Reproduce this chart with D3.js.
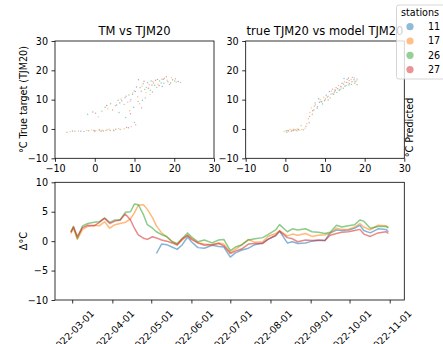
<!DOCTYPE html>
<html>
<head>
<meta charset="utf-8">
<script src="https://cdn.jsdelivr.net/npm/d3@7"></script>
<style>
  html, body { margin: 0; padding: 0; background: #fff; }
  svg { display: block; font-family: "DejaVu Sans", sans-serif; }
</style>
</head>
<body>
<svg id="chart" width="443" height="344"></svg>
<script>
// ---- data ----
const stations = ["11", "17", "26", "27"];
const stationColors = ["#1f77b4", "#ff7f0e", "#2ca02c", "#d62728"];

const scatterTicks = [-10, 0, 10, 20, 30];
const scatterTickLabels = ["\u221210", "0", "10", "20", "30"];
const deltaTicks = [-10, -5, 0, 5, 10];
const deltaTickLabels = ["\u221210", "\u22125", "0", "5", "10"];
const dateTicks = ["2022-03-01", "2022-04-01", "2022-05-01", "2022-06-01", "2022-07-01",
                   "2022-08-01", "2022-09-01", "2022-10-01", "2022-11-01"];

// TM (air) vs TJM20 (soil, 20 cm), per station: [TM, TJM20]
const tmVsTjm_11 = [[-3.5,-0.8],[1.2,-0.4],[4.8,-0.6],[8.5,0.4],[-0.5,5.8],[2.6,7.4],[5.5,8.2],[6.8,9.6],[7.9,11.2],[9.1,10.1],[10.2,12.8],[11.4,14.1],[12.6,13.5],[13.3,15.8],[14.2,16.4],[15.1,14.9],[15.8,16.9],[16.7,15.7],[17.5,17.2],[18.4,16.1],[19.6,16.8],[21.0,16.2],[9.8,7.4],[12.0,9.8],[14.5,12.6],[6.1,5.6],[11.0,16.8],[17.0,14.5]];
const tmVsTjm_17 = [[-6.2,-0.9],[-4.1,-0.7],[-2.0,-0.5],[-0.8,-0.3],[0.3,-0.6],[1.1,-0.2],[1.9,-0.4],[2.8,-0.5],[3.6,-0.1],[4.7,-0.3],[6.0,0.2],[7.4,0.1],[9.2,0.8],[0.9,4.2],[3.3,6.9],[5.2,7.9],[6.6,10.2],[8.3,9.1],[9.6,12.3],[10.8,11.0],[11.9,14.6],[12.9,12.4],[13.7,15.1],[14.6,16.2],[15.9,15.3],[16.8,17.0],[18.2,16.6],[19.3,17.5],[20.5,16.0],[8.8,6.2],[11.3,8.6],[13.9,11.8]];
const tmVsTjm_26 = [[-7.0,-1.1],[-5.0,-0.8],[-1.5,-0.6],[0.0,-0.8],[2.2,-0.7],[3.9,-0.5],[6.4,-0.2],[-1.8,5.0],[1.8,6.1],[4.0,8.6],[5.9,9.8],[7.4,8.4],[8.6,11.6],[9.9,13.0],[10.9,9.4],[12.2,15.4],[13.0,14.2],[14.0,13.2],[14.8,15.7],[15.6,14.2],[16.3,16.4],[17.4,15.6],[18.8,15.2],[20.1,16.4],[21.6,15.9],[7.8,3.9],[10.0,2.2],[12.7,10.6]];
const tmVsTjm_27 = [[-5.6,-0.7],[-2.7,-0.9],[-0.2,-0.5],[1.6,-0.8],[3.1,-0.3],[5.3,-0.1],[8.0,0.5],[10.3,1.4],[0.2,5.4],[3.0,8.0],[4.5,6.5],[6.3,8.9],[7.6,10.7],[8.9,9.5],[9.5,11.8],[10.5,14.3],[11.7,12.9],[12.4,16.3],[13.5,13.9],[14.4,15.0],[15.3,16.6],[16.2,14.8],[17.2,16.9],[18.0,17.8],[19.1,15.7],[20.3,17.1],[11.8,7.2],[9.0,5.2]];

// true TJM20 vs model TJM20, per station: [true, model]
const trueVsModel_11 = [[0.2,-0.6],[2.4,-0.3],[7.5,8.9],[8.4,10.3],[9.2,9.2],[10.3,11.5],[11.1,12.8],[12.0,12.0],[12.8,14.1],[13.6,13.2],[14.3,15.6],[15.0,14.6],[15.6,16.9],[16.2,15.4],[16.9,17.6],[17.6,16.2],[18.1,17.0],[8.0,7.1],[10.8,9.9],[14.8,17.2]];
const trueVsModel_17 = [[-0.3,-0.9],[0.6,-0.5],[1.2,-0.2],[1.7,-0.4],[2.1,-0.1],[2.6,-0.3],[3.0,0.0],[3.5,-0.4],[4.2,-0.2],[5.0,0.3],[5.4,1.8],[5.8,3.5],[6.2,5.6],[6.6,7.2],[7.6,8.3],[8.8,10.0],[9.7,10.8],[10.9,11.2],[11.6,12.9],[12.5,13.4],[13.4,14.8],[14.1,14.0],[14.9,16.1],[15.8,15.8],[16.6,16.9],[17.4,17.4],[18.0,16.4],[4.0,1.2]];
const trueVsModel_26 = [[0.4,-1.1],[1.5,-0.8],[2.9,-0.6],[4.6,-0.3],[6.0,2.1],[6.8,5.0],[7.2,6.5],[8.1,7.6],[9.4,8.5],[10.1,10.2],[11.3,10.6],[12.2,11.8],[13.0,12.4],[13.8,13.5],[14.6,13.9],[15.3,14.8],[16.0,15.0],[16.7,15.2],[17.5,15.6],[18.1,15.1],[9.0,9.4],[12.6,13.1]];
const trueVsModel_27 = [[0.8,-0.7],[2.0,-0.5],[3.3,-0.2],[5.2,0.9],[6.1,4.3],[6.9,6.2],[7.3,7.8],[8.6,9.1],[9.9,9.7],[10.6,10.9],[11.5,11.9],[12.4,12.6],[13.2,13.7],[14.0,14.5],[14.7,15.3],[15.4,15.9],[16.1,16.5],[16.8,16.1],[17.3,16.8],[15.9,17.4],[11.9,13.6]];

// error series (Δ°C) per station
const dates = ["2022-02-28","2022-03-02","2022-03-05","2022-03-09","2022-03-13","2022-03-18","2022-03-22","2022-03-26","2022-03-30",
  "2022-04-03","2022-04-07","2022-04-11","2022-04-15","2022-04-18","2022-04-21","2022-04-25","2022-04-28",
  "2022-05-02","2022-05-05","2022-05-09","2022-05-13","2022-05-17","2022-05-21","2022-05-25","2022-05-29",
  "2022-06-01","2022-06-06","2022-06-11","2022-06-17","2022-06-22","2022-06-26",
  "2022-07-01","2022-07-05","2022-07-10","2022-07-15","2022-07-20","2022-07-26","2022-07-30",
  "2022-08-05","2022-08-08","2022-08-14","2022-08-18","2022-08-22","2022-08-28",
  "2022-09-02","2022-09-07","2022-09-12","2022-09-16","2022-09-21","2022-09-25","2022-09-30",
  "2022-10-05","2022-10-09","2022-10-12","2022-10-17","2022-10-23","2022-10-29","2022-10-31"];
const delta_11 = [null,null,null,null,null,null,null,null,null,
  null,null,null,null,null,null,null,null,
  null,-2.1,-0.5,-0.6,-1.0,-1.4,-0.6,0.7,
  -0.1,-1.1,-1.2,-0.7,-0.9,-1.0,
  -2.7,-2.0,-1.5,-1.2,-0.6,-0.3,0.3,
  0.9,1.7,-0.3,-0.1,-0.4,-0.3,
  0.0,0.1,0.1,1.4,1.9,1.8,1.9,
  2.2,2.7,1.8,1.4,2.1,2.0,1.6];
const delta_17 = [1.3,2.2,0.3,2.0,2.5,2.7,2.6,3.3,2.2,
  2.8,3.0,3.2,3.8,4.8,6.1,6.2,5.4,
  4.0,2.6,1.4,0.7,0.0,-0.6,0.2,1.0,
  0.5,-0.3,-0.5,-0.6,-0.3,-0.5,
  -1.9,-1.4,-0.6,0.3,-0.2,-0.1,0.8,
  1.3,1.8,0.9,1.2,1.0,1.3,
  0.8,1.0,1.1,1.3,2.2,2.0,2.0,
  2.4,3.0,2.4,1.9,2.7,2.6,2.4];
const delta_26 = [1.6,2.5,0.5,2.6,3.0,3.2,3.3,3.9,3.2,
  3.6,3.6,4.9,5.0,6.3,6.2,4.5,2.8,
  2.2,1.6,1.1,0.8,-0.1,-0.4,0.5,1.4,
  0.75,-0.1,0.2,-0.3,0.2,0.3,
  -1.6,-1.0,-0.6,0.2,0.4,0.6,1.1,
  1.9,2.8,1.6,2.1,1.9,2.1,
  1.6,1.5,1.3,1.5,2.7,2.4,2.6,
  2.8,3.6,3.4,2.2,2.5,2.5,2.2];
const delta_27 = [1.5,2.4,0.8,2.3,2.7,2.6,3.2,3.9,3.0,
  3.4,3.6,4.6,3.6,2.2,1.05,0.5,0.3,
  0.75,0.55,0.2,0.0,-0.3,-0.65,0.4,1.0,
  0.3,-0.3,-0.7,-0.6,-0.4,-0.8,
  -2.1,-1.7,-1.3,-0.5,-0.4,-0.4,0.3,
  1.0,1.7,0.6,0.4,-0.1,0.2,
  0.1,0.2,0.1,1.0,1.3,1.5,1.6,
  1.8,2.0,1.2,0.8,1.4,1.6,1.3];

const tmVsTjm = [tmVsTjm_11, tmVsTjm_17, tmVsTjm_26, tmVsTjm_27];
const trueVsModel = [trueVsModel_11, trueVsModel_17, trueVsModel_26, trueVsModel_27];
const deltas = [delta_11, delta_17, delta_26, delta_27];

// ---- layout ----
const svg = d3.select("#chart");
const TICK_FONT = 9.6, TITLE_FONT = 11.5;
const panelTop = { y0: 41, y1: 158.3 };
const ax1 = { x0: 55, x1: 214 };
const ax2 = { x0: 245.7, x1: 404.3 };
const ax3 = { x0: 55, x1: 404.3, y0: 182.3, y1: 300 };

function styleAxis(g) {
  g.select(".domain").remove();
  g.selectAll(".tick line").attr("stroke", "#000").attr("stroke-width", 0.8);
  g.selectAll(".tick text").attr("fill", "#000").attr("font-size", TICK_FONT)
    .attr("font-family", "DejaVu Sans, sans-serif");
}

function frame(x0, x1, y0, y1) {
  svg.append("rect").attr("x", x0).attr("y", y0).attr("width", x1 - x0).attr("height", y1 - y0)
    .attr("fill", "none").attr("stroke", "#000").attr("stroke-width", 0.8);
}

function scatterPanel(ax, sets, title) {
  const x = d3.scaleLinear().domain([-10, 30]).range([ax.x0, ax.x1]);
  const y = d3.scaleLinear().domain([-10, 30]).range([panelTop.y1, panelTop.y0]);
  const g = svg.append("g");
  sets.forEach((pts, i) => {
    g.selectAll(null).data(pts).join("circle")
      .attr("cx", d => x(d[0])).attr("cy", d => y(d[1])).attr("r", 0.7)
      .attr("fill", stationColors[i]).attr("fill-opacity", 0.5);
  });
  svg.append("g").attr("transform", `translate(0,${panelTop.y1})`)
    .call(d3.axisBottom(x).tickValues(scatterTicks).tickFormat((d, i) => scatterTickLabels[i])
      .tickSize(3.5).tickPadding(3.5))
    .call(styleAxis);
  svg.append("g").attr("transform", `translate(${ax.x0},0)`)
    .call(d3.axisLeft(y).tickValues(scatterTicks).tickFormat((d, i) => scatterTickLabels[i])
      .tickSize(3.5).tickPadding(3.5))
    .call(styleAxis);
  frame(ax.x0, ax.x1, panelTop.y0, panelTop.y1);
  svg.append("text").attr("x", (ax.x0 + ax.x1) / 2).attr("y", 34.5)
    .attr("text-anchor", "middle").attr("font-size", TITLE_FONT).text(title);
}

scatterPanel(ax1, tmVsTjm, "TM vs TJM20");
scatterPanel(ax2, trueVsModel, "true TJM20 vs model TJM20");

svg.append("text").attr("transform", "translate(26.5,99.5) rotate(-90)")
  .attr("text-anchor", "middle").attr("font-size", TICK_FONT).text("\u00b0C True target (TJM20)");
svg.append("text").attr("transform", "translate(412.5,127.5) rotate(-90)")
  .attr("text-anchor", "middle").attr("font-size", TICK_FONT).text("\u00b0C Predicted");

// ---- error time series ----
const parse = d3.utcParse("%Y-%m-%d");
const tDates = dates.map(parse);
const [tMin, tMax] = d3.extent(tDates);
const pad = (tMax - tMin) * 0.05;
const xt = d3.scaleUtc().domain([new Date(+tMin - pad), new Date(+tMax + pad)]).range([ax3.x0, ax3.x1]);
const yd = d3.scaleLinear().domain([-10, 10]).range([ax3.y1, ax3.y0]);

const line = d3.line()
  .defined(d => d.v !== null)
  .x(d => xt(d.t)).y(d => yd(d.v));

deltas.forEach((vals, i) => {
  const pts = vals.map((v, k) => ({ t: tDates[k], v }));
  svg.append("path").datum(pts).attr("d", line)
    .attr("fill", "none").attr("stroke", stationColors[i]).attr("stroke-opacity", 0.55)
    .attr("stroke-width", 1.5).attr("stroke-linejoin", "round");
});

svg.append("g").attr("transform", `translate(${ax3.x0},0)`)
  .call(d3.axisLeft(yd).tickValues(deltaTicks).tickFormat((d, i) => deltaTickLabels[i])
    .tickSize(3.5).tickPadding(3.5))
  .call(styleAxis);

const xAxis = svg.append("g").attr("transform", `translate(0,${ax3.y1})`)
  .call(d3.axisBottom(xt).tickValues(dateTicks.map(parse)).tickFormat(d3.utcFormat("%Y-%m-%d"))
    .tickSize(3.5).tickPadding(3.5))
  .call(styleAxis);
xAxis.selectAll(".tick text")
  .attr("y", 0).attr("dy", null)
  .attr("dominant-baseline", "central")
  .attr("text-anchor", "middle")
  .attr("transform", "translate(0,31.5) rotate(-45)");

frame(ax3.x0, ax3.x1, ax3.y0, ax3.y1);
svg.append("text").attr("transform", `translate(26.5,${(ax3.y0 + ax3.y1) / 2}) rotate(-90)`)
  .attr("text-anchor", "middle").attr("font-size", TICK_FONT).text("\u0394\u00b0C");

// ---- legend ----
const lg = svg.append("g").attr("transform", "translate(396.5,5)");
lg.append("rect").attr("x", 0).attr("y", 0).attr("width", 60).attr("height", 74).attr("rx", 2.5)
  .attr("fill", "#fff").attr("fill-opacity", 0.8).attr("stroke", "#cccccc").attr("stroke-width", 0.8);
lg.append("text").attr("x", 4.5).attr("y", 11).attr("font-size", TICK_FONT).text("stations");
stations.forEach((s, i) => {
  const cy = 21.7 + i * 14.3;
  lg.append("circle").attr("cx", 13.5).attr("cy", cy).attr("r", 3.6)
    .attr("fill", stationColors[i]).attr("fill-opacity", 0.5);
  lg.append("text").attr("x", 31.5).attr("y", cy).attr("dy", "0.35em")
    .attr("font-size", TICK_FONT).text(s);
});
</script>
</body>
</html>
